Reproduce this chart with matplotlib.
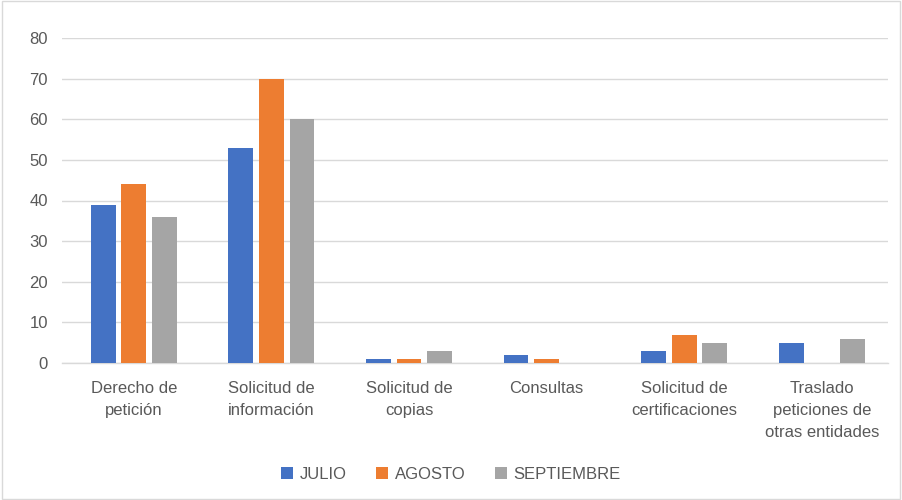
import matplotlib.pyplot as plt
import numpy as np

categories = ["Derecho de\npetición", "Solicitud de\ninformación", "Solicitud de\ncopias",
              "Consultas", "Solicitud de\ncertificaciones", "Traslado\npeticiones de\notras entidades"]
series_names = ["JULIO", "AGOSTO", "SEPTIEMBRE"]
julio = [39, 53, 1, 2, 3, 5]
agosto = [44, 70, 1, 1, 7, 0]
septiembre = [36, 60, 3, 0, 5, 6]
colors = ["#4472C4", "#ED7D31", "#A5A5A5"]
yticks = [0, 10, 20, 30, 40, 50, 60, 70, 80]

plt.rcParams['font.family'] = ['Liberation Sans', 'DejaVu Sans']
fig = plt.figure(figsize=(9.02, 5.0), dpi=100)
ax = fig.add_axes([0.0687, 0.274, 0.9153, 0.650])

x = np.arange(len(categories))
w = 0.18
step = 0.222
for i, (vals, name) in enumerate(zip([julio, agosto, septiembre], series_names)):
    ax.bar(x + (i - 1) * step, vals, width=w, color=colors[i], label=name, zorder=3)

ax.set_xlim(-0.522, len(categories) - 0.522)
ax.set_ylim(0, 80)
ax.set_yticks(yticks)
ax.yaxis.grid(True, color="#D9D9D9", linewidth=1, zorder=0)
ax.set_xticks(x)
ax.set_xticklabels(categories, fontsize=12, color="#595959", linespacing=1.6)
ax.tick_params(axis='y', labelsize=12, colors="#595959", length=0, pad=10)
ax.tick_params(axis='x', length=0, pad=13)
for s in ["top", "right", "left"]:
    ax.spines[s].set_visible(False)
ax.spines["bottom"].set_color("#D9D9D9")
ax.spines["bottom"].set_linewidth(1)

leg = fig.legend(loc="lower center", bbox_to_anchor=(0.5, 0.006), ncol=3, frameon=False,
                 fontsize=12, handlelength=0.7, handleheight=0.7, handletextpad=0.4,
                 columnspacing=1.8)
for t in leg.get_texts():
    t.set_color("#595959")

border = plt.Rectangle((0.002, 0.002), 0.996, 0.996, transform=fig.transFigure,
                       fill=False, edgecolor="#D9D9D9", linewidth=1)
fig.patches.append(border)

fig.savefig("out.png", dpi=100)
